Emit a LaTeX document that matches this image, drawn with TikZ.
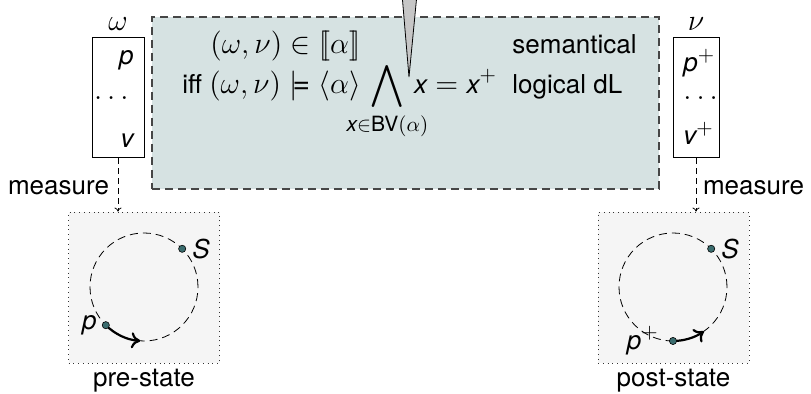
\RequirePackage{fix-cm}
\documentclass[tikz,border=0pt]{standalone}
\usepackage{amsmath,amssymb}
\usepackage{fontspec}
\setmainfont{TeX Gyre Heros}
\DeclareMathSizes{13}{15}{10.5}{8}
\usetikzlibrary{arrows.meta, positioning, calc}
\definecolor{stteal}{RGB}{58,108,110}
\definecolor{relfill}{RGB}{214,226,226}
\definecolor{stfill}{RGB}{245,245,245}
\definecolor{reledge}{RGB}{70,70,70}
\newcommand{\svar}[1]{\text{\itshape #1}}

\begin{document}
\begin{tikzpicture}[x=0.5pt, y=0.5pt, font=\fontsize{13}{15}\selectfont,
  lbl/.style={inner sep=0pt},
  vecbox/.style={draw=black, line width=0.5pt, inner sep=0pt, minimum height=60pt},
  stbox/.style={draw=black!80, dotted, fill=stfill, inner sep=0pt, minimum width=75.5pt, minimum height=75.5pt},
  orbit/.style={dash pattern=on 4pt off 2.5pt, line width=0.4pt},
  stdot/.style={circle, fill=stteal, draw=black, line width=0.3pt, inner sep=0pt, minimum size=3.6pt},
  move/.style={line width=1.1pt, -{To[length=4.5pt,width=8pt]}},
  meas/.style={dash pattern=on 3pt off 2pt, line width=0.4pt, -{To[length=2pt,width=3.5pt]}}]
\useasboundingbox (0,0) rectangle (811,394);

% --- relacion entre estados ---
\node[fill=relfill, draw=reledge, dash pattern=on 4pt off 2.5pt, line width=0.6pt,
      inner sep=0pt, minimum width=253.5pt, minimum height=86pt] (rel) at (405.5,291) {};
\node[lbl, anchor=base west] (semeq) at (210,340) {$(\omega,\nu)\in[\![\alpha]\!]$};
\node[lbl, anchor=base west] (semtxt) at (512,340) {semantical};
\node[lbl, anchor=base west] (logeq) at (182,300)
  {iff $\displaystyle(\omega,\nu)\models\langle\alpha\rangle\,\bigwedge_{\makebox[0pt]{$\scriptstyle\svar{x}\in\text{BV}(\alpha)$}}\,\svar{x}=\svar{x}^+$};
\node[lbl, anchor=base west] (logtxt) at (512,300) {logical dL};

% puntero
\fill[gray!45] (402,400) -- (409,317) -- (417,400) -- cycle;
\draw[line width=0.4pt] (402,400) -- (409,317) -- (417,400);

% --- vectores de estado ---
\node[vecbox, minimum width=26pt] (prebox) at (118,296) {};
\node[above=0pt of prebox] (prelbl) {$\omega$};
\node[lbl, anchor=base east] (prep) at (134,329) {$\svar{p}$};
\node[lbl, anchor=east] (predots) at (129,296) {$\ldots$};
\node[lbl, anchor=base east] (prev) at (134,246) {$\svar{v}$};

\node[vecbox, minimum width=23pt] (postbox) at (696,296) {};
\node[above=0pt of postbox] (postlbl) {$\nu$};
\node[lbl, anchor=base west] (postp) at (683,322) {$\svar{p}^+$};
\node[lbl, anchor=west] (postdots) at (683,296) {$\ldots$};
\node[lbl, anchor=base west] (postv) at (683,249) {$\svar{v}^+$};

% --- estados fisicos ---
\node[stbox] (prest) at (144,106.5) {};
\node[anchor=base] (prename) at (144,7) {pre-state};
\node[stbox] (postst) at (673.5,106.5) {};
\node[anchor=base] (postname) at (673.5,7) {post-state};

\draw[meas] (prebox.south) -- (prebox.south |- prest.north)
  node[pos=0.55, left=1pt] (premeas) {measure};
\draw[meas] (postbox.south) -- (postbox.south |- postst.north)
  node[pos=0.55, right=0pt] (postmeas) {measure};

% orbitas
\coordinate (prec) at (144,107);
\coordinate (postc) at (673,107);
\draw[orbit] (prec) circle[radius=27pt];
\draw[orbit] (postc) circle[radius=27pt];

\coordinate (preSc) at ([shift={(45:27pt)}]prec);
\coordinate (prePc) at ([shift={(225:27pt)}]prec);
\coordinate (postSc) at ([shift={(45:27pt)}]postc);
\coordinate (postPc) at ([shift={(270:27pt)}]postc);

\draw[move] (prePc) arc[start angle=225, end angle=266, radius=27pt];
\draw[move] (postPc) arc[start angle=270, end angle=305, radius=27pt];

\node[stdot] (preS) at (preSc) {};
\node[stdot] (preP) at (prePc) {};
\node[stdot] (postS) at (postSc) {};
\node[stdot] (postP) at (postPc) {};
\node[lbl, right=3pt of preS] (preSl) {$\svar{S}$};
\node[lbl, left=2.5pt of preP] (prePl) {$\svar{p}$};
\node[lbl, right=3pt of postS] (postSl) {$\svar{S}$};
\node[lbl, left=5pt of postP] (postPl) {$\svar{p}^+$};

\end{tikzpicture}
\end{document}
